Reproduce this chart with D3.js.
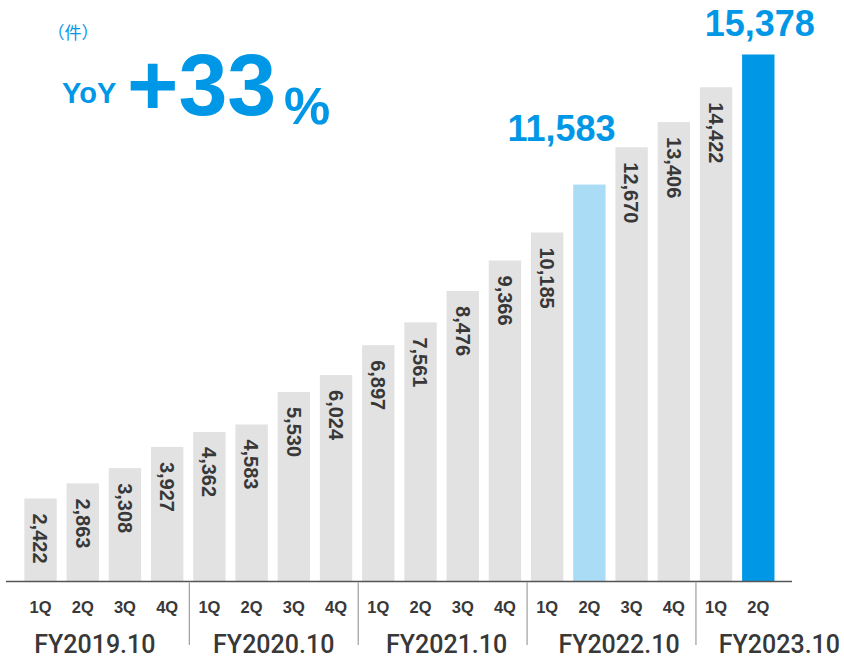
<!DOCTYPE html>
<html>
<head>
<meta charset="utf-8">
<script src="https://cdn.jsdelivr.net/npm/d3@7"></script>
<style>
  html, body { margin: 0; padding: 0; background: #ffffff; }
  svg { display: block; font-family: "Liberation Sans", Arial, Helvetica, sans-serif; }
</style>
</head>
<body>
<svg id="chart" width="844" height="659"></svg>
<script>
// Quarterly cumulative counts (件)
const quarters = ["1Q","2Q","3Q","4Q","1Q","2Q","3Q","4Q","1Q","2Q","3Q","4Q","1Q","2Q","3Q","4Q","1Q","2Q"];
const fiscalYearOfBar = [
  "FY2019.10","FY2019.10","FY2019.10","FY2019.10",
  "FY2020.10","FY2020.10","FY2020.10","FY2020.10",
  "FY2021.10","FY2021.10","FY2021.10","FY2021.10",
  "FY2022.10","FY2022.10","FY2022.10","FY2022.10",
  "FY2023.10","FY2023.10"
];
const counts = [2422, 2863, 3308, 3927, 4362, 4583, 5530, 6024, 6897, 7561, 8476, 9366, 10185, 11583, 12670, 13406, 14422, 15378];
const fiscalYears = ["FY2019.10","FY2020.10","FY2021.10","FY2022.10","FY2023.10"];
const previousYearKey = "FY2022.10 2Q";
const currentKey = "FY2023.10 2Q";
const unitLabel = "（件）";
const yoyLabel = "YoY";
const yoyValue = "+33";
const yoyUnit = "%";

// layout
const baseY = 581.5;
const pxPerUnit = 0.03427;
const fyLabelShift = [-9, 1, 5, 8.5, 0];

const BLUE = "#0098e6";
const LIGHT_BLUE = "#abdcf6";
const GREY = "#e2e2e2";
const DARK = "#383838";

const rows = counts.map((v, i) => ({
  key: fiscalYearOfBar[i] + " " + quarters[i],
  fy: fiscalYearOfBar[i],
  q: quarters[i],
  value: v
}));

const svg = d3.select("#chart");

const x = d3.scaleBand()
  .domain(rows.map(d => d.key))
  .range([19.4, 779.4])
  .paddingInner(0.233)
  .paddingOuter(0.1165);

const yMax = 16000;
const y = d3.scaleLinear()
  .domain([0, yMax])
  .range([baseY, baseY - yMax * pxPerUnit]);

const bw = x.bandwidth();
const fmt = d3.format(",");

// bars
svg.append("g").selectAll("rect")
  .data(rows)
  .join("rect")
  .attr("x", d => x(d.key))
  .attr("y", d => y(d.value))
  .attr("width", bw)
  .attr("height", d => y(0) - y(d.value))
  .attr("fill", d => d.key === currentKey ? BLUE : d.key === previousYearKey ? LIGHT_BLUE : GREY);

// rotated value labels inside the grey bars
svg.append("g").selectAll("text")
  .data(rows.filter(d => d.key !== currentKey && d.key !== previousYearKey))
  .join("text")
  .attr("transform", d => `translate(${x(d.key) + bw / 2 - 7.2},${y(d.value) + 15}) rotate(90)`)
  .attr("font-size", 20)
  .attr("font-weight", "bold")
  .attr("fill", DARK)
  .text(d => fmt(d.value));

// highlighted value labels
const prev = rows.find(d => d.key === previousYearKey);
const cur = rows.find(d => d.key === currentKey);
svg.append("text")
  .attr("x", x(prev.key) + bw + 10)
  .attr("y", y(prev.value) - 43.5)
  .attr("text-anchor", "end")
  .attr("font-size", 36)
  .attr("font-weight", "bold")
  .attr("fill", BLUE)
  .text(fmt(prev.value));
svg.append("text")
  .attr("x", x(cur.key) + bw / 2 + 1.5)
  .attr("y", y(cur.value) - 18)
  .attr("text-anchor", "middle")
  .attr("font-size", 36)
  .attr("font-weight", "bold")
  .attr("fill", BLUE)
  .text(fmt(cur.value));

// baseline
const [r0, r1] = x.range();
svg.append("line")
  .attr("x1", r0 - 13.4).attr("x2", r1 + 12.6)
  .attr("y1", baseY).attr("y2", baseY)
  .attr("stroke", "#555555")
  .attr("stroke-width", 1.6);

// quarter labels
svg.append("g").selectAll("text")
  .data(rows)
  .join("text")
  .attr("x", d => x(d.key) + bw / 2)
  .attr("y", 612.5)
  .attr("text-anchor", "middle")
  .attr("font-size", 16.5)
  .attr("font-weight", "bold")
  .attr("fill", DARK)
  .text(d => d.q);

// fiscal-year separators
const step = x.step();
fiscalYears.slice(1).forEach(fy => {
  const first = rows.find(d => d.fy === fy);
  const sx = x(first.key) - (step - bw) / 2 + 1;
  svg.append("line")
    .attr("x1", sx).attr("x2", sx)
    .attr("y1", baseY + 1).attr("y2", 645)
    .attr("stroke", "#8a8a8a")
    .attr("stroke-width", 1);
});

// fiscal-year labels, centred on a four-quarter span
fiscalYears.forEach((fy, i) => {
  const first = rows.find(d => d.fy === fy);
  const cx = x(first.key) + bw / 2 + 1.5 * step + fyLabelShift[i];
  svg.append("text")
    .attr("x", cx)
    .attr("y", 653)
    .attr("text-anchor", "middle")
    .attr("font-family", "Roboto, 'Liberation Sans', sans-serif")
    .attr("font-weight", 500)
    .attr("font-size", 25)
    .attr("fill", DARK)
    .text(fy);
});

// unit and YoY headline
svg.append("text")
  .attr("x", 73).attr("y", 39)
  .attr("text-anchor", "middle")
  .attr("font-family", "'Noto Sans CJK JP', sans-serif")
  .attr("font-size", 17)
  .attr("fill", BLUE)
  .text(unitLabel);

svg.append("text")
  .attr("x", 62).attr("y", 103)
  .attr("font-size", 29)
  .attr("font-weight", "bold")
  .attr("fill", BLUE)
  .text(yoyLabel);

svg.append("text")
  .attr("x", 127).attr("y", 115)
  .attr("font-size", 88)
  .attr("font-weight", "bold")
  .attr("fill", BLUE)
  .text(yoyValue);

svg.append("text")
  .attr("x", 284).attr("y", 124)
  .attr("font-size", 52)
  .attr("font-weight", "bold")
  .attr("fill", BLUE)
  .text(yoyUnit);
</script>
</body>
</html>
